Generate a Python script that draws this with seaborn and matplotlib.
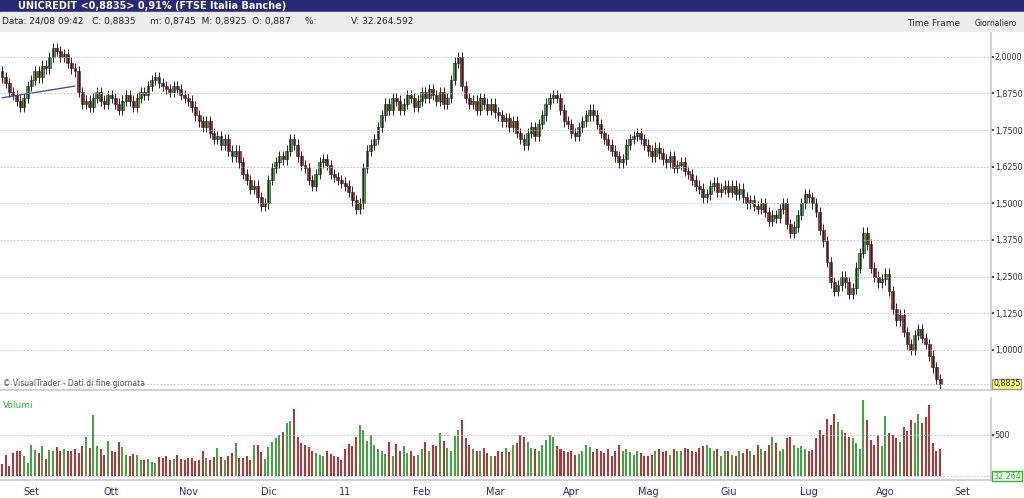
import matplotlib

matplotlib.use("Agg")
import matplotlib.pyplot as plt
import numpy as np
import pandas as pd
import seaborn as sns

# daily closes, Aug 2010 tail -> 24 Aug 2011, grouped by month
closes = [
    1.93, 1.91, 1.88, 1.87, 1.85, 1.83, 1.86, 1.90,
    1.92, 1.95, 1.93, 1.97, 1.96, 2.00, 2.03, 2.02, 2.00, 2.01, 1.98, 1.96, 1.95, 1.88, 1.84, 1.85, 1.83, 1.86, 1.88, 1.85, 1.84, 1.87,
    1.86, 1.84, 1.82, 1.85, 1.87, 1.85, 1.83, 1.86, 1.88, 1.87, 1.90, 1.92, 1.93, 1.91, 1.90, 1.89, 1.88, 1.90, 1.89, 1.87, 1.86,
    1.85, 1.83, 1.80, 1.78, 1.76, 1.78, 1.74, 1.72, 1.73, 1.70, 1.72, 1.68, 1.66, 1.68, 1.64, 1.60, 1.58, 1.55, 1.56, 1.52, 1.49, 1.50,
    1.58, 1.62, 1.64, 1.66, 1.65, 1.68, 1.72, 1.70, 1.66, 1.63, 1.62, 1.58, 1.56, 1.60, 1.64, 1.65, 1.63, 1.60, 1.59, 1.58, 1.57,
    1.56, 1.54, 1.51, 1.48, 1.50, 1.62, 1.68, 1.70, 1.72, 1.76, 1.80, 1.84, 1.82, 1.86, 1.85, 1.82, 1.84, 1.87, 1.86, 1.83, 1.85,
    1.88, 1.86, 1.89, 1.87, 1.85, 1.88, 1.84, 1.86, 1.92, 1.98, 2.00, 1.90, 1.86, 1.84, 1.85, 1.82, 1.86, 1.84, 1.82, 1.84,
    1.81, 1.80, 1.78, 1.79, 1.76, 1.78, 1.74, 1.72, 1.70, 1.74, 1.76, 1.73, 1.77, 1.80, 1.84, 1.86, 1.87, 1.86, 1.82, 1.78, 1.77,
    1.74, 1.73, 1.76, 1.78, 1.80, 1.82, 1.80, 1.77, 1.74, 1.72, 1.70, 1.68, 1.66, 1.64, 1.65, 1.70, 1.72, 1.73, 1.74, 1.72, 1.70,
    1.68, 1.66, 1.69, 1.67, 1.65, 1.64, 1.66, 1.62, 1.63, 1.64, 1.61, 1.60, 1.58, 1.56, 1.55, 1.52, 1.53, 1.56, 1.57, 1.54, 1.55, 1.56,
    1.54, 1.56, 1.53, 1.55, 1.52, 1.50, 1.51, 1.49, 1.48, 1.50, 1.47, 1.44, 1.46, 1.45, 1.48, 1.50, 1.43, 1.40, 1.42, 1.46, 1.50, 1.53,
    1.52, 1.50, 1.47, 1.41, 1.37, 1.30, 1.23, 1.20, 1.22, 1.25, 1.23, 1.19, 1.21, 1.28, 1.33, 1.40, 1.36, 1.28, 1.25, 1.23, 1.24,
    1.26, 1.20, 1.14, 1.10, 1.12, 1.06, 1.02, 1.00, 1.05, 1.07, 1.04, 1.02, 0.98, 0.94, 0.90, 0.8835,
]
first_open = 1.95
volumes = [
    150, 260, 120, 280, 300, 300, 250, 160,
    380, 320, 280, 360, 210, 320, 300, 350, 310, 330, 300, 300, 330, 280, 370, 480, 340, 740, 370, 330, 260, 430,
    310, 290, 420, 350, 260, 250, 270, 260, 200, 190, 210, 170, 160, 230, 220, 250, 190, 210, 260, 210, 190,
    220, 220, 180, 200, 300, 220, 200, 230, 340, 230, 190, 240, 280, 400, 220, 220, 240, 200, 380, 380, 290, 210,
    350, 420, 460, 500, 540, 640, 670, 820, 480, 400, 380, 350, 300, 280, 260, 240, 300, 270, 250, 230, 200,
    330, 390, 360, 480, 620, 560, 430, 500, 380, 330, 300, 270, 420, 250, 390, 300, 360, 280, 300, 250, 260,
    330, 420, 310, 380, 360, 520, 430, 340, 300, 490, 560, 680, 460, 380, 330, 300, 300, 340, 280, 250,
    250, 300, 290, 340, 290, 380, 400, 500, 470, 420, 340, 330, 310, 380, 440, 500, 470, 360, 330, 300, 290,
    300, 260, 270, 300, 380, 350, 290, 330, 300, 280, 330, 250, 300, 380, 300, 330, 290, 260, 300, 280, 250,
    250, 260, 300, 330, 290, 300, 260, 330, 300, 300, 340, 330, 300, 290, 340, 360, 380, 340, 300, 330, 250, 300,
    310, 260, 240, 300, 280, 330, 300, 260, 380, 330, 300, 380, 470, 400, 300, 330, 460, 480, 380, 340, 360, 330,
    300, 320, 460, 560, 500, 700, 620, 750, 660, 560, 520, 480, 460, 400, 330, 930, 680, 440, 380, 500, 360,
    730, 520, 500, 460, 420, 600, 550, 680, 640, 760, 650, 720, 860, 400, 300, 330,
]
month_lengths = [8, 22, 21, 22, 21, 21, 20, 21, 21, 22, 22, 21, 21]
month_labels = ["Set", "Ott", "Nov", "Dic", "11", "Feb", "Mar", "Apr", "Mag", "Giu", "Lug", "Ago", "Set"]
price_ticks = [1.0, 1.125, 1.25, 1.375, 1.5, 1.625, 1.75, 1.875, 2.0]

n = len(closes)
idx = np.arange(n)
c = np.array(closes)
o = np.concatenate([[first_open], c[:-1]])
hi = np.maximum(o, c) + 0.018
lo = np.minimum(o, c) - 0.018
up = c >= o
green, red = "#2eb82e", "#cc1f1f"

sns.set_theme(style="white")
fig = plt.figure(figsize=(10.24, 4.98), dpi=100)
fig.patch.set_facecolor("white")

# header bars
fig.patches.append(plt.Rectangle((0, 0.975), 1, 0.025, transform=fig.transFigure, color="#262a78"))
fig.patches.append(plt.Rectangle((0, 0.937), 1, 0.038, transform=fig.transFigure, color="#ececec"))
fig.text(0.018, 0.987, "UNICREDIT <0,8835> 0,91% (FTSE Italia Banche)", color="white",
         fontsize=7, fontweight="bold", va="center")
fig.text(0.002, 0.956, "Data: 24/08 09:42   C: 0,8835     m: 0,8745  M: 0,8925  O: 0,887     %:            V: 32.264.592",
         fontsize=6.5, va="center", color="#222222")
fig.text(0.938, 0.952, "Time Frame", fontsize=6.5, va="center", ha="right")
fig.text(0.952, 0.952, "Giornaliero", fontsize=5.5, va="center")

ax = fig.add_axes([0, 0.217, 0.968, 0.719])
axv = fig.add_axes([0, 0.036, 0.968, 0.165])
xlim = (-0.55, 271.0)

ax.vlines(idx, lo, hi, color="#222222", linewidth=0.7)
ax.bar(idx, np.abs(c - o).clip(0.004), bottom=np.minimum(o, c), width=0.8,
       color=np.where(up, green, red), edgecolor="#222222", linewidth=0.4)
ax.plot([0, 20], [1.86, 1.90], color="#3344aa", linewidth=0.9)
ax.set_xlim(*xlim)
ax.set_ylim(0.863, 2.085)
ax.yaxis.tick_right()
ax.set_yticks(price_ticks)
ax.set_yticklabels([f"{t:.4f}".replace(".", ",") for t in price_ticks], fontsize=5.8)
ax.set_xticks([])
for t in price_ticks + [0.8835]:
    ax.axhline(t, color="#bbbbbb", linestyle=(0, (2, 2)), linewidth=0.6)
ax.text(1.002, 0.8835, "0,8835", transform=ax.get_yaxis_transform(), fontsize=5.8, va="center",
        bbox=dict(facecolor="#ffff66", edgecolor="#999999", pad=0.5))
ax.text(0.003, 0.01, "© VisualTrader - Dati di fine giornata", transform=ax.transAxes, fontsize=5.5, color="#555555")
for s in ["top", "left"]:
    ax.spines[s].set_visible(False)
ax.spines["right"].set_color("#cccccc")
ax.spines["bottom"].set_color("#cccccc")
ax.tick_params(axis="y", length=2, pad=0.5, colors="#333333")

vdf = pd.DataFrame({"i": idx, "v": volumes, "dir": np.where(up, "up", "down")})
sns.barplot(data=vdf, x="i", y="v", hue="dir", palette={"up": green, "down": red}, native_scale=True,
            dodge=False, width=0.55, legend=False, ax=axv, linewidth=0)
axv.set_xlim(*xlim)
axv.set_ylim(-49, 951)
axv.set_xlabel("")
axv.set_ylabel("")
axv.yaxis.tick_right()
axv.set_yticks([500])
axv.set_yticklabels(["500"], fontsize=6)
for t in [0, 500]:
    axv.axhline(t, color="#bbbbbb", linestyle=(0, (2, 2)), linewidth=0.6)
axv.text(0.003, 0.88, "Volumi", transform=axv.transAxes, fontsize=6.5, color="#2eb82e")
axv.text(1.002, 0, "32.264", transform=axv.get_yaxis_transform(), fontsize=5.8, va="center", color="#2eb82e",
         bbox=dict(facecolor="#f4fff0", edgecolor="#2eb82e", pad=0.5))
starts = np.cumsum([0] + month_lengths)[1:]
axv.set_xticks(starts[: len(month_labels)])
axv.set_xticklabels(month_labels, fontsize=7, color="#2a2a8a")
axv.tick_params(axis="x", length=3, pad=2)
axv.tick_params(axis="y", length=2, pad=0.5, colors="#333333")
for s in ["top", "left"]:
    axv.spines[s].set_visible(False)
axv.spines["right"].set_color("#cccccc")
axv.spines["bottom"].set_color("#cccccc")

fig.savefig("out.png", dpi=100)
